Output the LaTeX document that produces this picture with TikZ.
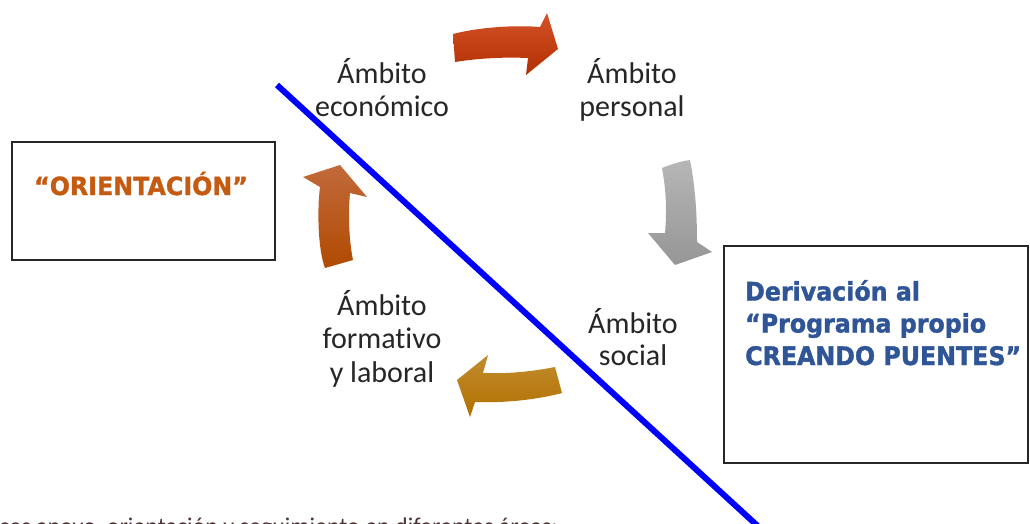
\documentclass[tikz,border=0pt]{standalone}
\usepackage{fontspec}
\setmainfont{Carlito}[Ligatures=NoCommon]
\newfontfamily\boldfont{DejaVu Sans Bold}[FakeBold=1.4,FakeStretch=0.93]
\newfontfamily\orientfont{DejaVu Sans Bold}[FakeBold=1.4,FakeStretch=0.95]
\definecolor{txtgray}{HTML}{262626}
\definecolor{orangetxt}{HTML}{C55A11}
\definecolor{bluetxt}{HTML}{2F5597}
\definecolor{bottomtxt}{HTML}{4D3333}
\begin{document}
\begin{tikzpicture}[x=1pt,y=-1pt,
  amb/.style={anchor=base, inner sep=0pt, text=txtgray, font=\fontsize{30}{33}\selectfont},
  boxnode/.style={draw=black!85, line width=1.6pt, inner sep=0pt},
  bluelabel/.style={anchor=base west, inner sep=0pt, text=bluetxt, font=\boldfont\fontsize{25.5}{32}\selectfont}]
\useasboundingbox (0,0) rectangle (1030,524);
\clip (0,0) rectangle (1030,524);

% boxes
\node[boxnode, minimum width=263pt, minimum height=118pt] (leftbox) at (143.5,201) {};
\node[boxnode, minimum width=304pt, minimum height=217pt] (rightbox) at (876,354.5) {};

\node[anchor=base, inner sep=0pt, text=orangetxt, font=\orientfont\fontsize{25}{28}\selectfont] (orient) at (141,195) {“ORIENTACIÓN”};

\node[bluelabel] (d1) at (745,300.5) {Derivación al};
\node[bluelabel] (d2) at (745,332.5) {“Programa propio};
\node[bluelabel] (d3) at (745,365) {CREANDO PUENTES”};

% arrows
\shade[top color={rgb,255:red,212;green,82;blue,42}, bottom color={rgb,255:red,179;green,47;blue,0}]
  (453,34) .. controls (480,27) and (515,25) .. (540,27) -- (547,13) -- (558,49) -- (526,75) -- (528,58)
  .. controls (505,57) and (480,58) .. (455,62) -- cycle;
\shade[top color={rgb,255:red,182;green,182;blue,182}, bottom color={rgb,255:red,150;green,150;blue,150}]
  (662,168) .. controls (672,164) and (682,161) .. (690,160) .. controls (696,190) and (697,220) .. (697,242)
  -- (712,252) -- (675,265) -- (648,233) -- (665,233) .. controls (667,210) and (666,190) .. (662,168) -- cycle;
\shade[top color={rgb,255:red,194;green,140;blue,46}, bottom color={rgb,255:red,176;green,112;blue,0}]
  (555,367) .. controls (530,372) and (505,374) .. (483,373) -- (488,355) -- (457,380) -- (470,417) -- (475,402)
  .. controls (505,403) and (535,400) .. (562,393) -- cycle;
\shade[top color={rgb,255:red,194;green,106;blue,60}, bottom color={rgb,255:red,176;green,74;blue,0}]
  (325,268) .. controls (318,250) and (317,210) .. (320,187) -- (303,177) -- (340,165) -- (367,197) -- (350,193)
  .. controls (348,215) and (349,240) .. (353,260) -- cycle;

% blue line
\coordinate (l1) at (277,85);
\coordinate (l2) at (761,529);
\draw[blue, line width=6pt] (l1) -- (l2);

% labels
\node[amb] (e1) at (382,84) {Ámbito};
\node[amb] (e2) at (382,117) {económico};
\node[amb] (p1) at (632,84) {Ámbito};
\node[amb] (p2) at (632,117) {personal};
\node[amb] (s1) at (633,333) {Ámbito};
\node[amb] (s2) at (633,365) {social};
\node[amb] (f1) at (382,315) {Ámbito};
\node[amb] (f2) at (382,348) {formativo};
\node[amb] (f3) at (382,382) {y laboral};

\node[anchor=base west, inner sep=0pt, text=bottomtxt, font=\fontsize{24}{28}\selectfont] (bottom) at (-1,534) {ces apoyo, orientación y seguimiento en diferentes áreas:};
\end{tikzpicture}
\end{document}
